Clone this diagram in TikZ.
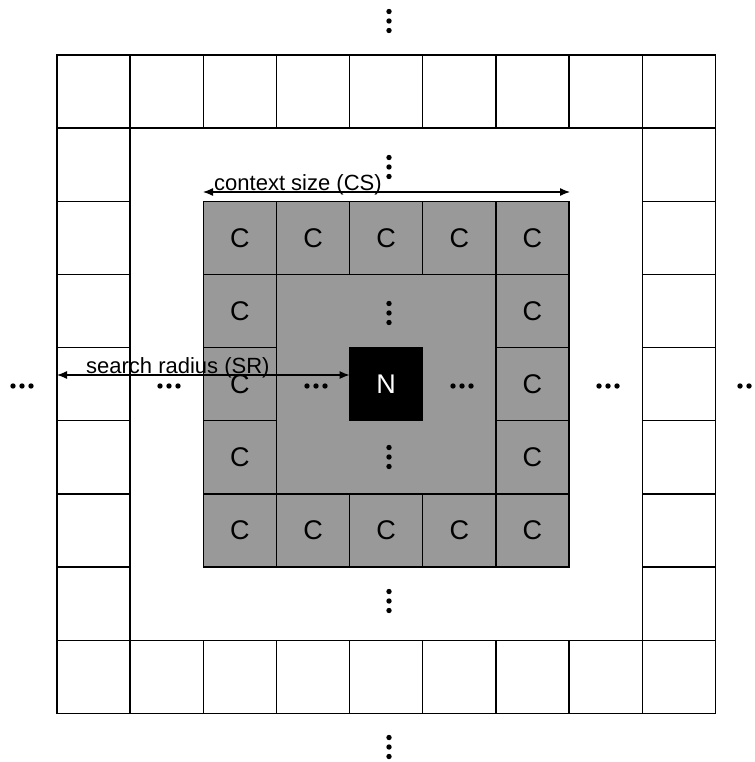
\documentclass[tikz,border=0pt]{standalone}
\usepackage{fontspec}
\setmainfont{Liberation Sans}
\usetikzlibrary{arrows.meta}
\newcommand\myvdots[1]{\foreach \dd in {-9.5,0,9.5}{\fill[black] (#1) ++(0,\dd) circle (2.7pt);}}
\newcommand\myhdots[1]{\foreach \dd in {-9,0,9}{\fill[black] (#1) ++(\dd,0) circle (2.7pt);}}
\begin{document}
\begin{tikzpicture}[x=1pt,y=-1pt,
  cell/.style={draw=black,line width=1.4pt,minimum size=73.15pt,inner sep=0pt,outer sep=0pt,fill=white},
  ccell/.style={cell,fill=black!40,font=\fontsize{27}{30}\selectfont},
  ncell/.style={cell,fill=black,text=white,font=\fontsize{27}{30}\selectfont},
  ctxbox/.style={fill=black!40,draw=none,minimum size=365.75pt,inner sep=0pt,outer sep=0pt},
  lbl/.style={font=\fontsize{22}{24}\selectfont,inner sep=0pt,anchor=base west},
  arr/.style={{Latex[length=10pt,width=8pt]}-{Latex[length=10pt,width=8pt]},line width=1.2pt}]
\useasboundingbox (0,0) rectangle (754,762);
% outer ring
\foreach \i in {0,...,8}{
  \node[cell] (o-\i-0) at ({57+73.15*(\i+0.5)},{55+73.15*0.5}) {};
  \node[cell] (o-\i-8) at ({57+73.15*(\i+0.5)},{55+73.15*8.5}) {};
}
\foreach \j in {1,...,7}{
  \node[cell] (o-0-\j) at ({57+73.15*0.5},{55+73.15*(\j+0.5)}) {};
  \node[cell] (o-8-\j) at ({57+73.15*8.5},{55+73.15*(\j+0.5)}) {};
}
% context area
\node[ctxbox] (ctx) at ({57+73.15*4.5},{55+73.15*4.5}) {};
\foreach \i in {2,...,6}{
  \node[ccell] (c-\i-2) at ({57+73.15*(\i+0.5)},{55+73.15*2.5}) {C};
  \node[ccell] (c-\i-6) at ({57+73.15*(\i+0.5)},{55+73.15*6.5}) {C};
}
\foreach \j in {3,...,5}{
  \node[ccell] (c-2-\j) at ({57+73.15*2.5},{55+73.15*(\j+0.5)}) {C};
  \node[ccell] (c-6-\j) at ({57+73.15*6.5},{55+73.15*(\j+0.5)}) {C};
}
\node[ncell] (N) at ({57+73.15*4.5},{55+73.15*4.5}) {N};
% dots
\myvdots{389,21}
\myvdots{389,167}
\myvdots{389,313}
\myvdots{389,457}
\myvdots{389,601}
\myvdots{389,747}
\foreach \x in {22,169,316,462,608,749}{\myhdots{\x,386}}
% arrows and labels
\coordinate (cs-l) at (203,192);
\coordinate (cs-r) at (570,192);
\draw[arr] (cs-l) -- (cs-r);
\node[lbl] (cs-t) at (214,190) {context size (CS)};
\coordinate (sr-l) at (57,375);
\draw[arr] (sr-l) -- (sr-l -| N.west);
\node[lbl] (sr-t) at (86,373) {search radius (SR)};
\end{tikzpicture}
\end{document}
